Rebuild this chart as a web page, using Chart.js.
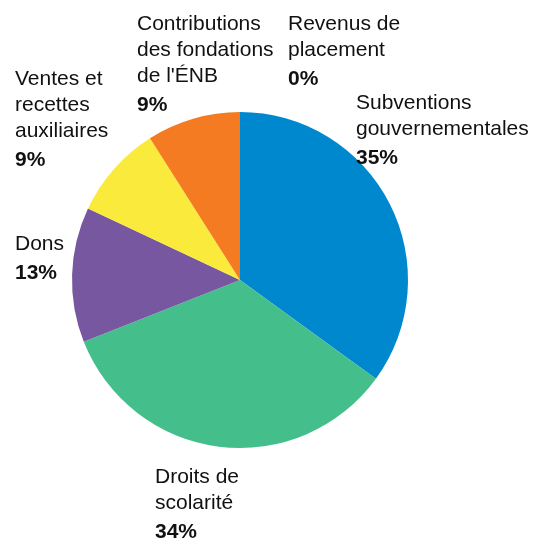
<!DOCTYPE html>
<html>
<head>
<meta charset="utf-8">
<script src="https://cdn.jsdelivr.net/npm/chart.js@4"></script>
<style>
  html, body { margin: 0; padding: 0; background: #fff; }
  #wrap { width: 534px; height: 539px; }
</style>
</head>
<body>
<div id="wrap"><canvas id="pie"></canvas></div>
<script>
// Sources of revenue, clockwise from 12 o'clock
const labels = [
  ['Subventions', 'gouvernementales'],
  ['Droits de', 'scolarité'],
  ['Dons'],
  ['Ventes et', 'recettes', 'auxiliaires'],
  ['Contributions', 'des fondations', "de l'ÉNB"],
  ['Revenus de', 'placement']
];
const values = [35, 34, 13, 9, 9, 0];
const colors = ['#0088CF', '#44BE8A', '#77579F', '#FAEA3B', '#F47B21', '#999999'];

// label anchors, offset from the pie centre (left edge, first line)
const labelOffsets = [
  [116, -177],
  [-85, 197],
  [-225, -36],
  [-225, -201],
  [-103, -256],
  [48, -256]
];

const FONT = '"Liberation Sans", Arial, Helvetica, sans-serif';

const outsideLabels = {
  id: 'outsideLabels',
  afterDraw(chart) {
    const ctx = chart.ctx;
    const arc = chart.getDatasetMeta(0).data[0];
    const cx = arc.x, cy = arc.y;
    ctx.save();
    ctx.fillStyle = '#111';
    ctx.textAlign = 'left';
    ctx.textBaseline = 'middle';
    labels.forEach((lines, i) => {
      const x = cx + labelOffsets[i][0];
      let y = cy + labelOffsets[i][1];
      ctx.font = '21px ' + FONT;
      lines.forEach((line, j) => {
        ctx.fillText(line, x, y + j * 26);
      });
      ctx.font = 'bold 21px ' + FONT;
      ctx.fillText(values[i] + '%', x, y + (lines.length - 1) * 26 + 29);
    });
    ctx.restore();
  }
};

new Chart(document.getElementById('pie'), {
  type: 'pie',
  data: {
    labels: labels.map(l => l.join(' ')),
    datasets: [{
      data: values,
      backgroundColor: colors,
      borderWidth: 0
    }]
  },
  options: {
    responsive: true,
    maintainAspectRatio: false,
    animation: false,
    layout: {
      padding: { left: 72, right: 126, top: 112, bottom: 91 }
    },
    plugins: {
      legend: { display: false },
      tooltip: { enabled: false }
    }
  },
  plugins: [outsideLabels]
});
</script>
</body>
</html>
